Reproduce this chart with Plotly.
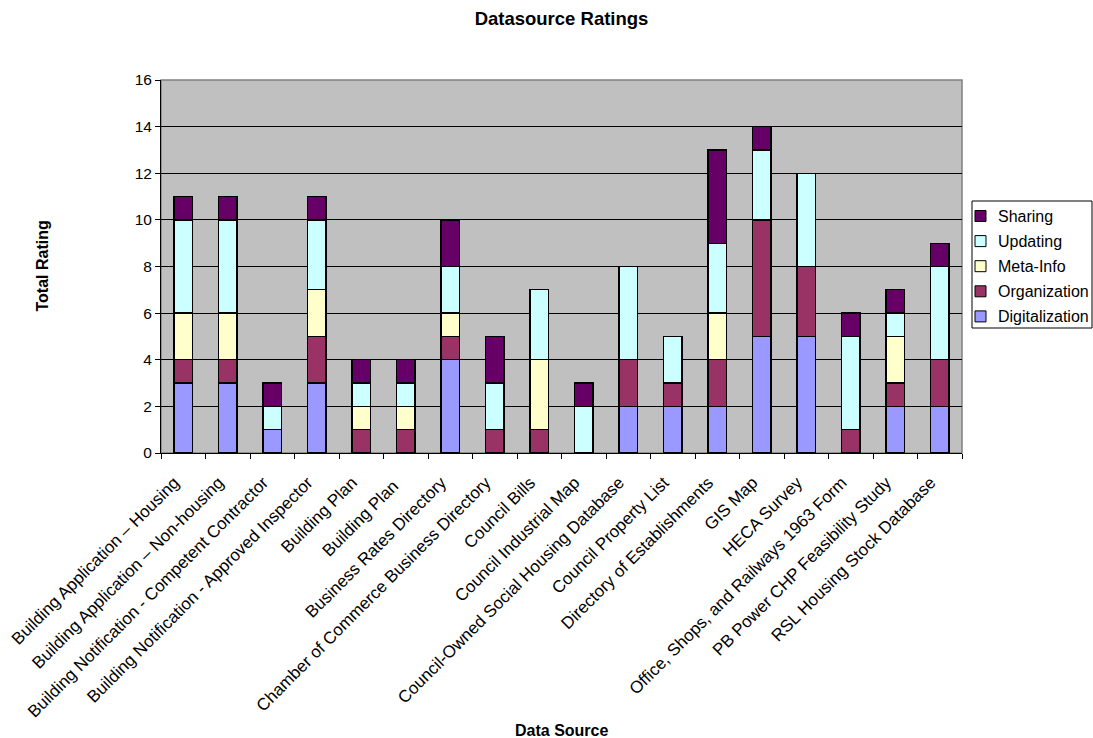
import plotly.graph_objects as go

categories = [
    "Building Application – Housing",
    "Building Application – Non-housing",
    "Building Notification - Competent Contractor",
    "Building Notification - Approved Inspector",
    "Building Plan",
    "Building Plan ",
    "Business Rates Directory",
    "Chamber of Commerce Business Directory",
    "Council Bills",
    "Council Industrial Map",
    "Council-Owned Social Housing Database",
    "Council Property List",
    "Directory of Establishments",
    "GIS Map",
    "HECA Survey",
    "Office, Shops, and Railways 1963 Form",
    "PB Power CHP Feasibility Study",
    "RSL Housing Stock Database",
]

digitalization = [3, 3, 1, 3, 0, 0, 4, 0, 0, 0, 2, 2, 2, 5, 5, 0, 2, 2]
organization   = [1, 1, 0, 2, 1, 1, 1, 1, 1, 0, 2, 1, 2, 5, 3, 1, 1, 2]
meta_info      = [2, 2, 0, 2, 1, 1, 1, 0, 3, 0, 0, 0, 2, 0, 0, 0, 2, 0]
updating       = [4, 4, 1, 3, 1, 1, 2, 2, 3, 2, 4, 2, 3, 3, 4, 4, 1, 4]
sharing        = [1, 1, 1, 1, 1, 1, 2, 2, 0, 1, 0, 0, 4, 1, 0, 1, 1, 1]

series = [
    ("Digitalization", digitalization, "#9999FF"),
    ("Organization", organization, "#993366"),
    ("Meta-Info", meta_info, "#FFFFCC"),
    ("Updating", updating, "#CCFFFF"),
    ("Sharing", sharing, "#660066"),
]

FONT = "Liberation Sans, Arial, sans-serif"
W, H = 1093, 738
L, R, T, B = 161, 131, 80, 285
PW, PH = W - L - R, H - T - B


def px_x(px):
    return (px - L) / PW


def px_y(py):
    return (H - B - py) / PH


fig = go.Figure()
for name, vals, color in series:
    fig.add_trace(go.Bar(
        name=name, x=categories, y=vals, showlegend=False,
        marker=dict(color=color, line=dict(color="black", width=1.3)),
    ))

fig.update_layout(
    barmode="stack",
    bargap=0.58,
    width=W, height=H,
    margin=dict(l=L, r=R, t=T, b=B, autoexpand=False),
    paper_bgcolor="white",
    plot_bgcolor="#C0C0C0",
    font=dict(family=FONT, size=16, color="black"),
    title=dict(text="<b>Datasource Ratings</b>", x=0.5, xanchor="center",
               xref="paper", y=1 - 19 / H, yanchor="middle",
               font=dict(family=FONT, size=18.5)),
)

fig.update_xaxes(
    type="category", tickangle=-45, tickson="boundaries",
    ticks="outside", ticklen=5, tickcolor="black",
    ticklabelstandoff=12, ticklabelshift=-9,
    showline=True, linecolor="black", linewidth=1, mirror=False,
    showgrid=False, tickfont=dict(family=FONT, size=17),
)
fig.update_yaxes(
    range=[0, 16], dtick=2, ticks="outside", ticklen=5, tickcolor="black",
    showline=True, linecolor="black", linewidth=1,
    showgrid=True, gridcolor="black", gridwidth=1,
    tickfont=dict(family=FONT, size=15.5), zeroline=False,
)

# Plot-area outline on top and right
fig.add_shape(type="rect", xref="paper", yref="paper", x0=0, x1=1, y0=0, y1=1,
              line=dict(color="#808080", width=1.5), layer="below")

# Legend box: Sharing at the top, Digitalization at the bottom
fig.add_shape(type="rect", xref="paper", yref="paper",
              x0=px_x(972), x1=px_x(1092), y0=px_y(328), y1=px_y(201),
              line=dict(color="black", width=1), fillcolor="white")
for i, (name, _, color) in enumerate(reversed(series)):
    cy = 216 + i * 25.1
    fig.add_shape(type="rect", xref="paper", yref="paper",
                  x0=px_x(975), x1=px_x(986), y0=px_y(cy + 5.5), y1=px_y(cy - 5.5),
                  line=dict(color="black", width=1), fillcolor=color)
    fig.add_annotation(text=name, xref="paper", yref="paper",
                       x=px_x(996), xanchor="left", y=px_y(cy), yanchor="middle",
                       showarrow=False, font=dict(family=FONT, size=16))

fig.add_annotation(text="<b>Total Rating</b>", xref="paper", yref="paper",
                   x=px_x(42), xanchor="center",
                   y=0.5, yanchor="middle", textangle=-90, showarrow=False,
                   font=dict(family=FONT, size=16))
fig.add_annotation(text="<b>Data Source</b>", xref="paper", yref="paper",
                   x=px_x(561), xanchor="center",
                   y=px_y(730), yanchor="middle", showarrow=False,
                   font=dict(family=FONT, size=16))

fig.write_html("out.html")
